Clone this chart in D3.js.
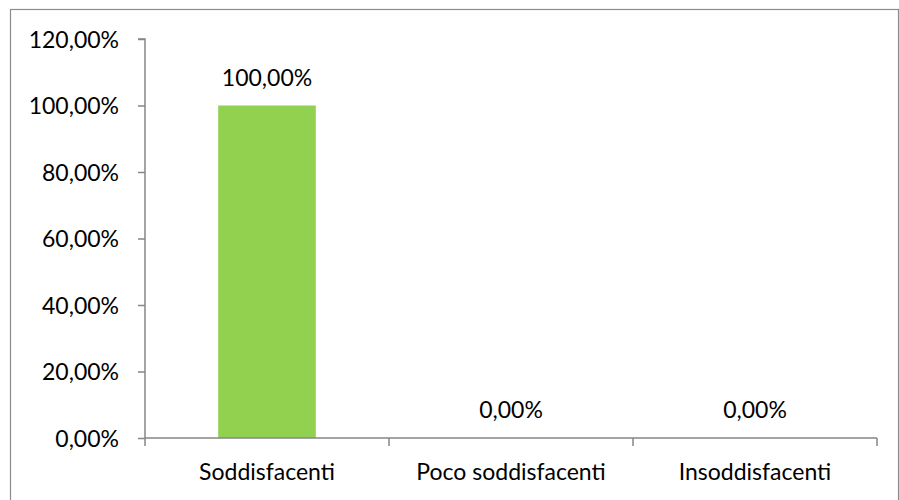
<!DOCTYPE html>
<html lang='en'>
<head>
<meta charset='utf-8'/>
<title>Soddisfazione</title>
<script src='https://d3js.org/d3.v7.min.js'></script>
<style>
  body { margin: 0; background: #fff; }
  text { font-family: Lato, 'Open Sans', sans-serif; fill: #000; }
</style>
</head>
<body>
<script>
'use strict'
const categories = ['Soddisfacenti', 'Poco soddisfacenti', 'Insoddisfacenti']
const values = [1.0, 0.0, 0.0]
const yTicks = [0, 0.2, 0.4, 0.6, 0.8, 1.0, 1.2]

const W = 899, H = 500
const plot = {left: 145, right: 877, top: 39, bottom: 438}
const fs = 23
const fmt = v => d3.format('.2f')(v * 100).replace('.', ',') + '%'

const svg = d3.select('body').append('svg')
  .attr('width', W).attr('height', H)

// outer frame
svg.append('rect')
  .attr('x', 10.5).attr('y', 9.5)
  .attr('width', 888).attr('height', 500)
  .attr('fill', 'none').attr('stroke', '#8c8c8c').attr('stroke-width', 1.2)

const x = d3.scaleBand().domain(categories)
  .range([plot.left, plot.right]).paddingInner(0.6).paddingOuter(0.3)
const y = d3.scaleLinear().domain([0, 1.2]).range([plot.bottom, plot.top])

// bars
svg.selectAll('.bar').data(values).enter().append('rect')
  .attr('x', (d, i) => x(categories[i]))
  .attr('y', d => y(d))
  .attr('width', x.bandwidth())
  .attr('height', d => y(0) - y(d))
  .attr('fill', '#92d050')

// value labels
svg.selectAll('.lbl').data(values).enter().append('text')
  .attr('x', (d, i) => x(categories[i]) + x.bandwidth() / 2)
  .attr('y', d => y(d) - 20)
  .attr('text-anchor', 'middle')
  .attr('font-size', fs)
  .text(d => fmt(d))

// y axis
const yAxis = d3.axisLeft(y).tickValues(yTicks).tickSize(7).tickFormat(fmt)
const gy = svg.append('g').attr('transform', `translate(${plot.left},0)`).call(yAxis)
gy.select('.domain').attr('stroke', '#868686').attr('stroke-width', 1.5)
  .attr('d', `M-7,${plot.top}H0V${plot.bottom}`)
gy.selectAll('.tick line').attr('stroke', '#868686').attr('stroke-width', 1.5)
gy.selectAll('.tick text').attr('font-size', fs).attr('x', -26).attr('dy', '0.36em')
  .style('font-family', 'Lato, sans-serif').attr('fill', '#000')

// x axis
const step = (plot.right - plot.left) / categories.length
const gx = svg.append('g')
gx.append('line')
  .attr('x1', plot.left).attr('x2', plot.right)
  .attr('y1', plot.bottom).attr('y2', plot.bottom)
  .attr('stroke', '#868686').attr('stroke-width', 1.5)
gx.selectAll('.xt').data(d3.range(categories.length + 1)).enter().append('line')
  .attr('x1', i => plot.left + i * step).attr('x2', i => plot.left + i * step)
  .attr('y1', plot.bottom).attr('y2', plot.bottom + 8)
  .attr('stroke', '#868686').attr('stroke-width', 1.5)
gx.selectAll('.xl').data(categories).enter().append('text')
  .attr('x', (d, i) => plot.left + (i + 0.5) * step)
  .attr('y', 480)
  .attr('text-anchor', 'middle')
  .attr('font-size', fs)
  .text(d => d)
</script>
</body>
</html>
